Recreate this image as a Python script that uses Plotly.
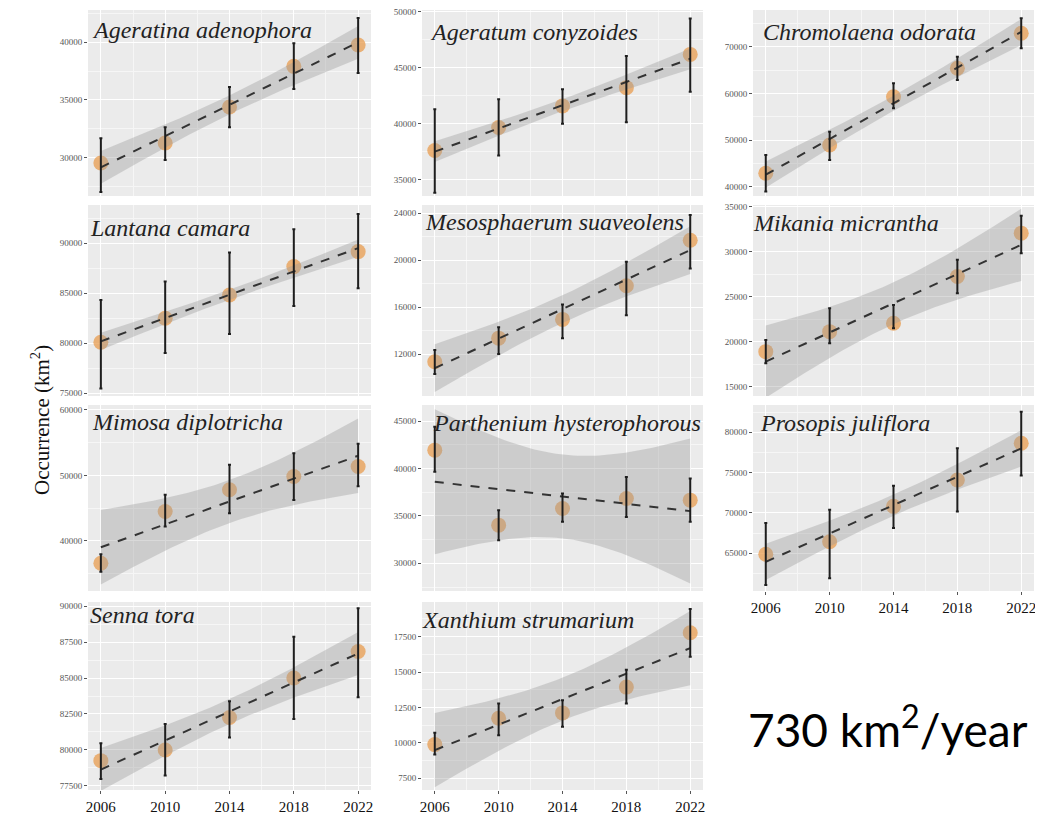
import numpy as np
import plotly.graph_objects as go

years = [2006, 2010, 2014, 2018, 2022]
year_labels = ["2006", "2010", "2014", "2018", "2022"]

species_names = ["Ageratina adenophora", "Ageratum conyzoides", "Chromolaena odorata",
                 "Lantana camara", "Mesosphaerum suaveolens", "Mikania micrantha",
                 "Mimosa diplotricha", "Parthenium hysterophorous", "Prosopis juliflora",
                 "Senna tora", "Xanthium strumarium"]

ageratina_mean = [29570, 31290, 34400, 37900, 39740]
ageratina_upper = [31700, 32650, 36120, 39900, 42070]
ageratina_lower = [27070, 29830, 32650, 35950, 37330]

ageratum_mean = [37620, 39670, 41600, 43230, 46190]
ageratum_upper = [41300, 42200, 43080, 46040, 49400]
ageratum_lower = [33850, 37170, 40000, 40150, 42860]

chromolaena_mean = [42870, 48930, 59290, 65370, 72870]
chromolaena_upper = [46790, 51780, 62140, 67860, 76070]
chromolaena_lower = [39000, 45720, 56790, 62870, 69660]

lantana_mean = [80100, 82500, 84830, 87670, 89170]
lantana_upper = [84330, 86170, 89070, 91400, 92930]
lantana_lower = [75490, 79030, 80930, 83730, 85500]

mesosphaerum_mean = [11340, 13350, 14950, 17820, 21700]
mesosphaerum_upper = [12340, 14280, 16230, 19860, 23860]
mesosphaerum_lower = [10300, 12000, 13350, 15300, 19300]

mikania_mean = [18890, 21110, 22040, 27220, 32030]
mikania_upper = [20190, 23700, 24070, 29070, 33960]
mikania_lower = [17600, 19830, 21480, 25370, 29810]

mimosa_mean = [36590, 44500, 47820, 49850, 51370]
mimosa_upper = [37970, 47050, 51630, 53410, 54840]
mimosa_lower = [35310, 42210, 44230, 46260, 48350]

parthenium_mean = [41930, 34020, 35780, 36840, 36660]
parthenium_upper = [44400, 35600, 37360, 39110, 38940]
parthenium_lower = [39640, 32440, 34370, 34890, 34370]

prosopis_mean = [64880, 66440, 70820, 74080, 78640]
prosopis_upper = [68760, 70410, 73380, 78020, 82550]
prosopis_lower = [61070, 61900, 68140, 70190, 74650]

senna_mean = [79260, 80000, 82260, 85000, 86840]
senna_upper = [80460, 81810, 83380, 87870, 89840]
senna_lower = [77990, 78220, 80870, 82150, 83670]

xanthium_mean = [9880, 11740, 12120, 13940, 17780]
xanthium_upper = [10710, 12780, 13020, 15170, 19450]
xanthium_lower = [9180, 10540, 11140, 12780, 16080]

y_ranges = [[26720, 42760], [33570, 50150], [38010, 77860],
            [74730, 93830], [8417, 24710], [13976, 35150],
            [32365, 60760], [27080, 46690], [60325, 83385],
            [77220, 90280], [6674, 19950]]
y_dticks = [5000, 5000, 10000, 5000, 4000, 5000, 10000, 5000, 5000, 2500, 2500]

rate_label = "730 km<sup>2</sup>/year"

means = [ageratina_mean, ageratum_mean, chromolaena_mean, lantana_mean, mesosphaerum_mean,
         mikania_mean, mimosa_mean, parthenium_mean, prosopis_mean, senna_mean, xanthium_mean]
uppers = [ageratina_upper, ageratum_upper, chromolaena_upper, lantana_upper, mesosphaerum_upper,
          mikania_upper, mimosa_upper, parthenium_upper, prosopis_upper, senna_upper, xanthium_upper]
lowers = [ageratina_lower, ageratum_lower, chromolaena_lower, lantana_lower, mesosphaerum_lower,
          mikania_lower, mimosa_lower, parthenium_lower, prosopis_lower, senna_lower, xanthium_lower]

# page body has an 8px margin: the figure is sized to fit inside it
OFF = 8
FW, FH = 1035, 812
cols_px = [(88, 371), (422, 703), (753, 1034)]
rows_px = [(10, 196), (205, 396), (405, 591), (602, 790)]
title_pos = [(90, 30), (428, 32), (761, 32), (88, 228), (423, 222), (751, 223),
             (90, 422), (431, 423), (758, 423), (88, 615), (420, 620)]
labelled_x = {8, 9, 10}

SERIF = "Liberation Serif"


def px(x):
    return (x - OFF) / FW


def py(y):
    return 1 - (y - OFF) / FH


def lm_band(xv, yv, n_grid=60):
    x = np.asarray(xv, float)
    y = np.asarray(yv, float)
    n = len(x)
    xm = x.mean()
    sxx = ((x - xm) ** 2).sum()
    b = ((x - xm) * (y - y.mean())).sum() / sxx
    a = y.mean() - b * xm
    resid = y - (a + b * x)
    s = np.sqrt((resid ** 2).sum() / (n - 2))
    t = 3.182446  # t(0.975, df=3)
    xs = np.linspace(x.min(), x.max(), n_grid)
    fit = a + b * xs
    se = s * np.sqrt(1 / n + (xs - xm) ** 2 / sxx)
    return xs, fit, fit - t * se, fit + t * se


fig = go.Figure()
layout = {}
annotations = []

for i in range(11):
    r, c = divmod(i, 3)
    k = "" if i == 0 else str(i + 1)
    xa, ya = "x" + k, "y" + k
    x0, x1 = cols_px[c]
    y0, y1 = rows_px[r]

    m = np.array(means[i], float)
    up = np.array(uppers[i], float)
    lo = np.array(lowers[i], float)

    fig.add_trace(go.Scatter(x=years, y=m, mode="markers", xaxis=xa, yaxis=ya,
                             marker=dict(size=15, color="rgba(232,152,72,0.72)", line=dict(width=0)),
                             showlegend=False, hoverinfo="skip"))
    xs, fit, blo, bhi = lm_band(years, m)
    fig.add_trace(go.Scatter(x=np.concatenate([xs, xs[::-1]]), y=np.concatenate([bhi, blo[::-1]]),
                             mode="lines", fill="toself", fillcolor="rgba(155,155,155,0.38)",
                             line=dict(width=0), xaxis=xa, yaxis=ya, showlegend=False, hoverinfo="skip"))
    fig.add_trace(go.Scatter(x=xs, y=fit, mode="lines", xaxis=xa, yaxis=ya,
                             line=dict(color="#333333", width=2, dash="dash"),
                             showlegend=False, hoverinfo="skip"))
    fig.add_trace(go.Scatter(x=years, y=m, mode="markers", xaxis=xa, yaxis=ya,
                             marker=dict(size=2, color="rgba(0,0,0,0)"),
                             error_y=dict(type="data", symmetric=False, array=up - m, arrayminus=m - lo,
                                          color="#1e1e1e", thickness=2, width=1.5),
                             showlegend=False, hoverinfo="skip"))

    show_x = i in labelled_x
    layout["xaxis" + k] = dict(domain=[px(x0), px(x1)], anchor=ya, range=[2005.2, 2022.8],
                               tickmode="array", tickvals=years, ticktext=year_labels,
                               showticklabels=show_x, ticks="outside" if show_x else "",
                               ticklen=3, tickcolor="#555555", ticklabeloverflow="allow",
                               tickfont=dict(family=SERIF, size=15, color="#111111"),
                               showgrid=True, gridcolor="white", gridwidth=1.1,
                               minor=dict(tickmode="linear", tick0=2004, dtick=2, showgrid=True,
                                          gridcolor="#f6f6f6", gridwidth=0.5, ticks=""),
                               zeroline=False, showline=False, fixedrange=True, automargin=False)
    layout["yaxis" + k] = dict(domain=[py(y1), py(y0)], anchor=xa, range=y_ranges[i],
                               tickmode="linear", tick0=0, dtick=y_dticks[i], tickformat="d",
                               ticks="outside", ticklen=3, tickcolor="#555555", ticklabeloverflow="allow",
                               tickfont=dict(family=SERIF, size=9, color="#555555"),
                               showgrid=True, gridcolor="white", gridwidth=1.1,
                               minor=dict(tickmode="linear", tick0=0, dtick=y_dticks[i] / 2, showgrid=True,
                                          gridcolor="#f6f6f6", gridwidth=0.5, ticks=""),
                               zeroline=False, showline=False, fixedrange=True, automargin=False)

    tx, ty = title_pos[i]
    annotations.append(dict(text="<i>" + species_names[i] + "</i>", x=px(tx), y=py(ty),
                            xref="paper", yref="paper", xanchor="left", yanchor="middle",
                            showarrow=False, font=dict(family=SERIF, size=24, color="#222222")))

annotations.append(dict(text="Occurrence (km<sup>2</sup>)", x=px(40), y=py(420), xref="paper", yref="paper",
                        textangle=-90, showarrow=False, xanchor="center", yanchor="middle",
                        font=dict(family=SERIF, size=21, color="#111111")))
annotations.append(dict(text=rate_label, x=px(888), y=py(726), xref="paper", yref="paper",
                        showarrow=False, xanchor="center", yanchor="middle",
                        font=dict(family="Lato", size=46, color="#000000")))

fig.update_layout(width=FW, height=FH, margin=dict(l=0, r=0, t=0, b=0),
                  paper_bgcolor="white", plot_bgcolor="#EBEBEB",
                  annotations=annotations, showlegend=False, **layout)

fig.write_html("out.html")
